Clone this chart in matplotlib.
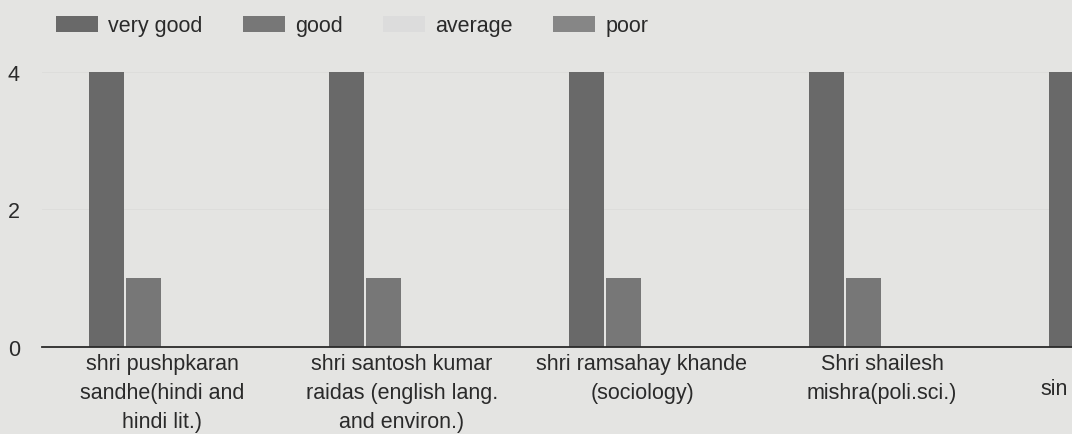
import matplotlib
matplotlib.use("Agg")
import matplotlib.pyplot as plt
import numpy as np

categories = [
    "shri pushpkaran\nsandhe(hindi and\nhindi lit.)",
    "shri santosh kumar\nraidas (english lang.\nand environ.)",
    "shri ramsahay khande\n(sociology)",
    "Shri shailesh\nmishra(poli.sci.)",
    "sin",
]
series_names = ["very good", "good", "average", "poor"]
very_good = [4, 4, 4, 4, 4]
good = [1, 1, 1, 1, 1]
average = [0, 0, 0, 0, 0]
poor = [0, 0, 0, 0, 0]
y_ticks = [0, 2, 4]

colors = ["#696969", "#777777", "#dcdcdc", "#868686"]
bg = "#e4e4e2"
text_color = "#2a2a2a"
fs = 15.5
plt.rcParams["font.family"] = ["Liberation Sans", "DejaVu Sans"]

fig = plt.figure(figsize=(10.72, 4.35), dpi=100, facecolor=bg)
ax = fig.add_axes([42 / 1072, 87 / 435, 1 - 42 / 1072, (348 - 45) / 435])
ax.set_facecolor(bg)

x = np.arange(len(categories))
group = 0.618
w = group / 4
data = [very_good, good, average, poor]
handles = []
for i, (vals, c, name) in enumerate(zip(data, colors, series_names)):
    h = ax.bar(x - group / 2 + w * (i + 0.5), vals, width=w * 0.96, color=c,
               label=name, zorder=3)
    handles.append(h)

ax.set_xlim(-0.5, (1072 - 162) / 240)
ax.set_ylim(0, 4.4)
ax.set_yticks(y_ticks)
ax.set_yticklabels([str(v) for v in y_ticks])
ax.grid(axis="y", color="#dcdcda", linewidth=0.6, zorder=0)
for s in ["top", "right", "left"]:
    ax.spines[s].set_visible(False)
ax.spines["bottom"].set_color("#2a2a2a")
ax.spines["bottom"].set_linewidth(1.3)
ax.spines["bottom"].set_zorder(4)
ax.tick_params(axis="both", length=0, labelsize=fs, colors=text_color)
ax.tick_params(axis="y", pad=16)
ax.set_xticks(x[:4])
ax.set_xticklabels(categories[:4], linespacing=1.5)
ax.tick_params(axis="x", pad=4)
ax.annotate(categories[4], xy=(x[4], 0), xycoords="data", xytext=(-59, -22),
            textcoords="offset points", ha="left", va="top", fontsize=fs,
            color=text_color, annotation_clip=False)

leg = fig.legend(handles=handles, labels=series_names, loc="upper left",
                 bbox_to_anchor=(40 / 1072, 1.0), ncol=4, frameon=False,
                 fontsize=fs, handlelength=1.95, handleheight=0.75,
                 columnspacing=1.9, handletextpad=0.45, labelcolor=text_color,
                 borderaxespad=0.35)

fig.savefig("out.png", dpi=100, facecolor=bg)
